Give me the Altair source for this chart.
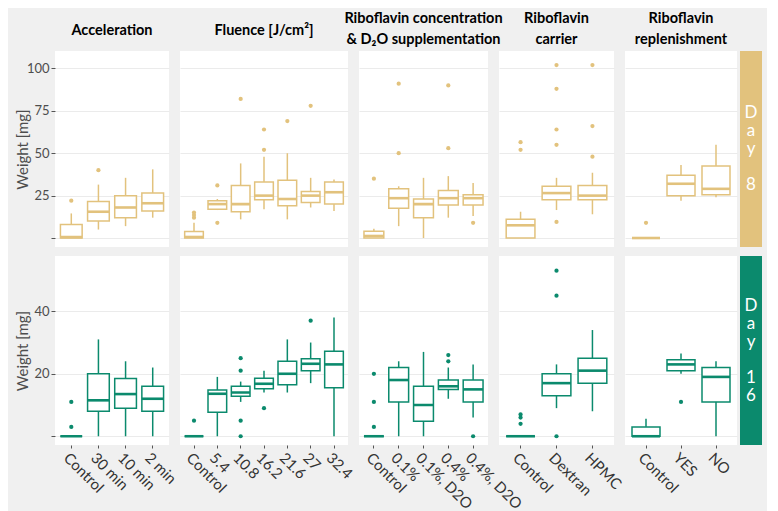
import altair as alt
import pandas as pd

# ---------------- data ----------------
group_titles = [
    ["Acceleration"],
    ["Fluence [J/cm²]"],
    ["Riboflavin concentration", "& D₂O supplementation"],
    ["Riboflavin", "carrier"],
    ["Riboflavin", "replenishment"],
]
cats_acc = ["Control", "30 min", "10 min", "2 min"]
cats_flu = ["Control", "5.4", "10.8", "16.2", "21.6", "27", "32.4"]
cats_conc = ["Control", "0.1%", "0.1%, D2O", "0.4%", "0.4%, D2O"]
cats_car = ["Control", "Dextran", "HPMC"]
cats_rep = ["Control", "YES", "NO"]
cats_all = [cats_acc, cats_flu, cats_conc, cats_car, cats_rep]

# strip labels, one character per line (blank line between "Day" and the number)
day_chars = [["D", "a", "y", "8"], ["D", "a", "y", "1", "6"]]
day_lines = [[0, 1, 2, 4], [0, 1, 2, 4, 5]]
day_colors = ["#e2c27d", "#0b8a6d"]

# Day 8 box statistics (22 boxes, in the order of the categories above)
d8_lo  = [0, 5, 7, 12,   0, 16.5, 11, 17, 11, 18, 16,   0, 7, 0, 12, 13,   0, 16.5, 14,   0, 22, 24]
d8_q1  = [0, 10, 12, 16,   0, 17, 15.5, 22.5, 19, 21, 20,   0, 17.5, 12, 19.5, 19.5,   0, 22.5, 22.5,   0, 25, 25.5]
d8_med = [0.5, 15.5, 18, 20.5,   0.6, 20, 20, 25, 23, 25, 27,   1.2, 23.5, 20, 23.5, 23.5,   7.5, 26.5, 25,   0, 32, 29]
d8_q3  = [8, 21.5, 25, 26.5,   3.8, 22, 31, 33, 34, 27.5, 33,   4, 29, 23, 28, 25.5,   11, 30.5, 31,   0, 37, 42.5]
d8_hi  = [14.5, 31.5, 35.5, 40.5,   9, 23, 44, 48, 50, 35.5, 34.5,   5.5, 30.5, 35.5, 36.5, 32.5,   15.5, 35.5, 38.5,   0, 43, 55]
d8_out = [[22], [40], [], [],
          [12, 13.5, 15], [9, 31], [82], [52, 64], [69], [78], [],
          [35], [50, 91], [], [53, 90], [9],
          [52, 56.5], [9.5, 55, 64, 88, 102], [48, 66, 102],
          [9], [], []]

# Day 16 box statistics
d16_lo  = [0, 0, 0, 0,   0, 0, 11, 14, 14, 17, 0,   0, 0, 0, 12, 6,   0, 9, 8,   0, 20, 0]
d16_q1  = [0, 8, 9, 8,   0, 7.7, 12.8, 15.2, 16.5, 21, 15.5,   0, 11, 4.8, 15, 11,   0, 13, 17,   0, 21, 11]
d16_med = [0, 11.5, 13.5, 12,   0, 13.6, 14, 16.8, 20, 23.2, 23,   0, 18, 10, 16, 15,   0, 17, 21,   0, 23, 19]
d16_q3  = [0, 20, 18.5, 16,   0, 14.8, 16, 18.6, 24, 24.8, 27.2,   0, 22, 16, 18, 18,   0, 20, 25,   3, 24.5, 22]
d16_hi  = [0, 31, 24, 22,   0, 19, 17.5, 21, 31, 30, 38,   0, 24, 27, 22, 23,   0, 23, 34,   5.6, 26.5, 24]
d16_out = [[3, 11], [], [], [],
           [5], [], [0, 5, 21, 25], [9], [], [37], [],
           [3, 11, 20], [], [], [24, 26], [0],
           [4, 6, 7], [0, 45, 53], [],
           [], [11], []]

y_domains = [[-5.3, 110.3], [-2.8, 57.7]]
y_ticks = [[0, 25, 50, 75, 100], [0, 20, 40]]

# ---------------- layout ----------------
panel_widths = [114, 168, 129, 115, 112]
row_heights = [196, 189]
FONT = "Lato"
STRIP_LH = 18

stats = [
    (d8_lo, d8_q1, d8_med, d8_q3, d8_hi, d8_out),
    (d16_lo, d16_q1, d16_med, d16_q3, d16_hi, d16_out),
]


def tables(day):
    lo, q1, med, q3, hi, out = stats[day]
    rows, orows = [], []
    k = 0
    for g, cats in enumerate(cats_all):
        for c in cats:
            rows.append(dict(g=g, cat=c, lo=lo[k], q1=q1[k], med=med[k], q3=q3[k], hi=hi[k]))
            for v in out[k]:
                orows.append(dict(g=g, cat=c, v=v))
            k += 1
    return pd.DataFrame(rows), pd.DataFrame(orows, columns=["g", "cat", "v"])


def make_panel(day, g):
    box_df, out_df = tables(day)
    box_df = box_df[box_df.g == g]
    out_df = out_df[out_df.g == g]
    cats = cats_all[g]
    w = panel_widths[g]
    h = row_heights[day]
    n = len(cats)
    step = w / (n + 0.2)
    bw = 0.8 * step
    color = day_colors[day]

    if day == 1:
        xaxis = alt.Axis(labelAngle=45, labelAlign="left", labelBaseline="top",
                         tickSize=3, tickColor="#555555", domain=False, grid=False,
                         title=None, labelFontSize=15, labelColor="#333333",
                         labelPadding=2, labelFont=FONT)
    else:
        xaxis = None
    xs = alt.Scale(domain=cats, paddingInner=0, paddingOuter=0.1)
    x = alt.X("cat:N", scale=xs, axis=xaxis, sort=cats)

    if g == 0:
        yaxis = alt.Axis(values=y_ticks[day],
                         labelExpr="datum.value == 0 ? '' : datum.label",
                         tickSize=4, tickColor="#555555", labelPadding=2,
                         domain=False, grid=True, gridColor="#ebebeb",
                         title="Weight [mg]", titleX=-33, titleY=h / 2,
                         titleAngle=-90, titleAlign="center", titleBaseline="middle",
                         labelFontSize=13, labelColor="#4d4d4d", labelFont=FONT,
                         titleFontSize=15, titleFontWeight="normal",
                         titleColor="#4d4d4d", titleFont=FONT)
    else:
        yaxis = alt.Axis(values=y_ticks[day], labels=False, ticks=False,
                         domain=False, grid=True, gridColor="#ebebeb", title=None)
    ys = alt.Scale(domain=y_domains[day], nice=False, zero=False)

    base = alt.Chart(box_df)
    whisk = base.mark_rule(color=color, strokeWidth=1.5).encode(
        x=x, y=alt.Y("lo:Q", scale=ys, axis=yaxis), y2="hi:Q")
    box = base.mark_bar(size=bw, fill="white", stroke=color, strokeWidth=1.5).encode(
        x=x, y=alt.Y("q1:Q", scale=ys, axis=yaxis), y2="q3:Q")
    med = base.mark_tick(size=bw, thickness=2.6, color=color, opacity=1).encode(
        x=x, y=alt.Y("med:Q", scale=ys, axis=yaxis))
    pts = alt.Chart(out_df).mark_circle(size=18, color=color, opacity=1).encode(
        x=x, y=alt.Y("v:Q", scale=ys, axis=yaxis))

    props = dict(width=w, height=h)
    if day == 0:
        lines = group_titles[g]
        props["title"] = alt.TitleParams(
            text=lines, fontSize=14.5, fontWeight="bold", anchor="middle",
            offset=4 if len(lines) == 2 else 13, lineHeight=21,
            color="black", font=FONT)
    return alt.layer(whisk, box, med, pts).properties(**props)


def make_strip(day):
    h = row_heights[day]
    chars = day_chars[day]
    idx = day_lines[day]
    nlines = idx[-1] + 1
    y0 = h / 2 - (nlines - 1) * STRIP_LH / 2
    df = pd.DataFrame({"t": chars, "i": idx})
    rect = alt.Chart(pd.DataFrame({"a": [0]})).mark_rect(color=day_colors[day]).encode(
        x=alt.value(-8), x2=alt.value(14), y=alt.value(0), y2=alt.value(h))
    txt = alt.Chart(df).mark_text(color="white", fontSize=17, baseline="middle",
                                  align="center", font=FONT).encode(
        x=alt.value(3),
        y=alt.Y("i:Q", scale=alt.Scale(domain=[0, 1], range=[y0, y0 + STRIP_LH],
                                      zero=False, nice=False), axis=None),
        text="t:N")
    return alt.layer(rect, txt).properties(width=14, height=h)


cells = []
for day in range(2):
    cells += [make_panel(day, g) for g in range(5)]
    cells.append(make_strip(day))

chart = alt.concat(*cells, columns=6, spacing={"row": 9, "column": 11},
                   bounds="flush").properties(
    padding={"left": 7, "top": 2, "right": 5, "bottom": 5}
).configure(background="#f0f0f0", font=FONT).configure_view(stroke=None, fill="white")

chart.save("out.html", embed_options={"renderer": "svg", "actions": False})
